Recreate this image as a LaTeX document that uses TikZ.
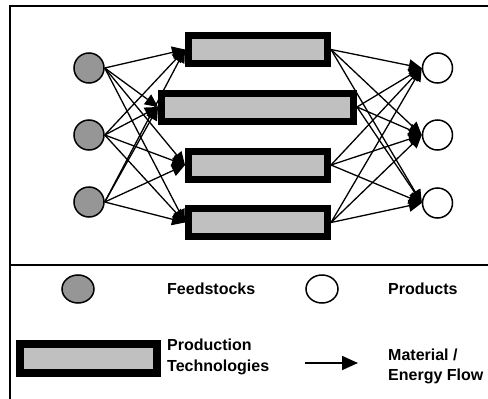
\documentclass[tikz,border=0pt]{standalone}
\usepackage{fontspec}
\setmainfont{Liberation Sans}
\usepackage{tikz}
\usetikzlibrary{arrows.meta, positioning, shapes.geometric}
\definecolor{feedgray}{RGB}{150,150,150}
\definecolor{techgray}{RGB}{192,192,192}

\begin{document}
\begin{tikzpicture}[x=1pt, y=-1pt, >={Triangle[length=13pt, width=12pt]},
        feed/.style={ellipse, draw, line width=1.5pt, fill=feedgray, minimum width=30pt, minimum height=30pt, inner sep=0pt},
        prod/.style={ellipse, draw, line width=1.5pt, fill=white, minimum width=30pt, minimum height=30pt, inner sep=0pt},
        tech/.style={rectangle, draw, line width=7pt, fill=techgray, minimum width=139pt, minimum height=28pt, inner sep=0pt},
        flow/.style={->, line width=1.3pt},
        lbl/.style={font=\bfseries\fontsize{16}{20.5}\selectfont, align=left, anchor=west, inner sep=0pt}]
        \useasboundingbox (0,0) rectangle (488,399);

        % frame and divider
        \draw[line width=2pt] (488,6) -- (10,6) -- (10,399);
        \draw[line width=2pt] (10,265) -- (488,265);

        % feedstocks
        \node (f1) [feed] at (89,68) {};
        \node (f2) [feed] at (89,135) {};
        \node (f3) [feed] at (89,202) {};

        % production technologies
        \node (t1) [tech] at (258,49.5) {};
        \node (t2) [tech, minimum width=192pt] at (257.5,107) {};
        \node (t3) [tech] at (258,165) {};
        \node (t4) [tech] at (258,222.5) {};

        % products
        \node (p1) [prod] at (437.5,68) {};
        \node (p2) [prod] at (437.5,135) {};
        \node (p3) [prod] at (437.5,203) {};

        \foreach \f in {f1,f2,f3}
            \foreach \t in {t1,t2,t3,t4}
                \draw[flow] (\f.east) -- (\t.west);
        \foreach \t in {t1,t2,t3,t4}
            \foreach \p in {p1,p2,p3}
                \draw[flow] (\t.east) -- (\p.west);

        % legend
        \node (lf) [feed, minimum width=32pt, minimum height=28pt] at (78,289) {};
        \node (lfl) [lbl] at (167,289) {Feedstocks};
        \node (lp) [prod, minimum width=32pt, minimum height=28pt] at (322,289) {};
        \node (lpl) [lbl] at (388,289) {Products};
        \node (lt) [tech, line width=8pt, minimum width=137pt, minimum height=29pt] at (88.5,358.5) {};
        \node (ltl) [lbl] at (167,357) {Production\\Technologies};
        \coordinate (la) at (305,363);
        \coordinate (lb) at (358,363);
        \draw[->, line width=1.8pt, >={Triangle[length=16pt, width=14pt]}] (la) -- (lb);
        \node (lal) [lbl] at (388,366.5) {Material /\\Energy Flow};
\end{tikzpicture}
\end{document}
